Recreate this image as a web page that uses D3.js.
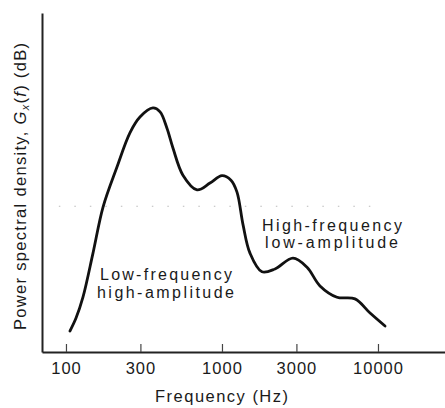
<!DOCTYPE html>
<html>
<head>
<meta charset="utf-8">
<script src="https://cdn.jsdelivr.net/npm/d3@7"></script>
<style>
  html, body { margin: 0; padding: 0; background: #fff; }
  svg { display: block; }
  text { font-family: "Liberation Sans", Arial, Helvetica, sans-serif; fill: #1a1a1a; }
</style>
</head>
<body>
<svg id="chart" width="445" height="408"></svg>
<script>
// ---- data ----
const frequencies = [106, 116, 128.5, 149, 173, 212, 257, 298, 361, 401, 444, 485, 562, 692, 838, 1000, 1142, 1248, 1365, 1512, 1804, 2187, 2852, 3508, 4248, 5461, 7122, 8897, 11100];
const psdDb       = [3.7, 6.0, 9.7, 17.5, 25.7, 32.7, 38.8, 41.6, 43.2, 42.5, 39.6, 36.1, 31.3, 28.7, 29.9, 31.2, 30.4, 28.3, 22.5, 17.5, 14.2, 14.7, 16.6, 15.0, 11.7, 9.7, 9.4, 6.9, 4.6];
const tickValues  = [100, 300, 1000, 3000, 10000];
const tickLabels  = ["100", "300", "1000", "3000", "10000"];
const gridDb      = 25.8;
const xTitle = "Frequency (Hz)";
const noteLow  = ["Low-frequency", "high-amplitude"];
const noteHigh = ["High-frequency", "low-amplitude"];

// ---- layout ----
const svg = d3.select("#chart");
const x = d3.scaleLog().domain([70.2, 26890]).range([42, 445]);
const y = d3.scaleLinear().domain([0, 60]).range([352, 13]);

// faint dotted remnant line
svg.append("line")
  .attr("x1", x(90)).attr("x2", x(10000))
  .attr("y1", y(gridDb)).attr("y2", y(gridDb))
  .attr("stroke", "#bbb").attr("stroke-width", 1.2)
  .attr("stroke-dasharray", "1.5 14");

// x axis
const xAxis = d3.axisBottom(x)
  .tickValues(tickValues)
  .tickFormat((d, i) => tickLabels[i])
  .tickSizeInner(-8).tickSizeOuter(0).tickPadding(14);
const gx = svg.append("g").attr("transform", `translate(0,${y(0)})`).call(xAxis);
gx.select(".domain").attr("stroke", "#222").attr("stroke-width", 2);
gx.selectAll(".tick line").attr("stroke", "#444").attr("stroke-width", 1.2);
gx.selectAll(".tick text")
  .attr("font-size", 16.5).attr("letter-spacing", 1)
  .attr("fill", "#1a1a1a").attr("dy", 0).attr("y", 22)
  .attr("font-family", "'Liberation Sans', Arial, Helvetica, sans-serif");

// y axis (line only)
const yAxis = d3.axisLeft(y).ticks(0).tickSizeOuter(0);
const gy = svg.append("g").attr("transform", `translate(${x(70.2)},0)`).call(yAxis);
gy.select(".domain").attr("stroke", "#222").attr("stroke-width", 2);

// axis titles
svg.append("text").attr("x", 155).attr("y", 402)
  .attr("font-size", 16.5).attr("textLength", 133).attr("lengthAdjust", "spacing")
  .text(xTitle);

const yt = svg.append("text")
  .attr("transform", "translate(26,330) rotate(-90)")
  .attr("font-size", 16.5).attr("textLength", 287).attr("lengthAdjust", "spacing");
yt.append("tspan").text("Power spectral density, ");
yt.append("tspan").attr("font-style", "italic").text("G");
yt.append("tspan").attr("font-style", "italic").attr("font-size", 11).attr("dy", 3).text("x");
yt.append("tspan").attr("dy", -3).text("(");
yt.append("tspan").attr("font-style", "italic").text("f");
yt.append("tspan").text(") (dB)");

// curve
const line = d3.line()
  .x((d, i) => x(frequencies[i]))
  .y(d => y(d))
  .curve(d3.curveCatmullRom.alpha(0.5));
svg.append("path").datum(psdDb)
  .attr("d", line)
  .attr("fill", "none").attr("stroke", "#111")
  .attr("stroke-width", 2.8).attr("stroke-linejoin", "round").attr("stroke-linecap", "round");

// annotations
const notes = [
  { lines: noteLow,  xs: [100, 97],  ys: [280, 298], ws: [132, 137] },
  { lines: noteHigh, xs: [262, 265], ys: [231, 248], ws: [140, 133] }
];
notes.forEach(n => {
  n.lines.forEach((t, i) => {
    svg.append("text").attr("x", n.xs[i]).attr("y", n.ys[i])
      .attr("font-size", 16).attr("textLength", n.ws[i]).attr("lengthAdjust", "spacing")
      .text(t);
  });
});
</script>
</body>
</html>
